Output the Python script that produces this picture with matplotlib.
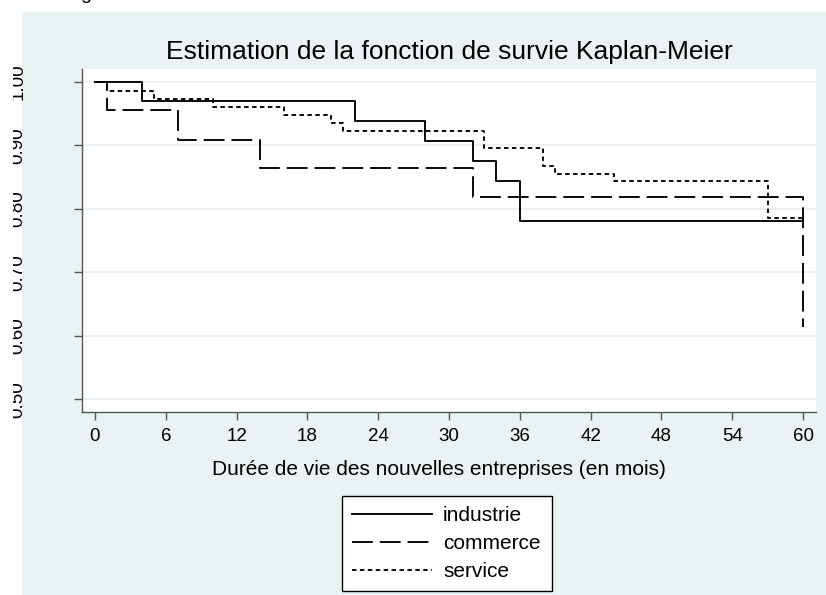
import matplotlib
matplotlib.use("Agg")
import matplotlib.pyplot as plt
from matplotlib.patches import Rectangle

plt.rcParams["font.family"] = ["Liberation Sans", "DejaVu Sans"]

# Kaplan-Meier estimates (months, survival)
industrie_t = [0, 4, 22, 28, 32, 34, 36, 60]
industrie_s = [1.0, 0.969, 0.938, 0.906, 0.875, 0.844, 0.781, 0.781]

commerce_t = [0, 1, 7, 14, 32, 60]
commerce_s = [1.0, 0.955, 0.909, 0.864, 0.818, 0.614]

service_t = [0, 1, 5, 10, 16, 20, 21, 33, 38, 39, 44, 57, 60]
service_s = [1.0, 0.986, 0.972, 0.960, 0.947, 0.935, 0.922, 0.895, 0.868, 0.855, 0.843, 0.785, 0.785]

labels = ["industrie", "commerce", "service"]
xticks = list(range(0, 61, 6))
yticks = [0.50, 0.60, 0.70, 0.80, 0.90, 1.00]

W, H = 826, 595
bg = "#EAF2F3"

fig = plt.figure(figsize=(W / 100, H / 100), dpi=100, facecolor="white")
fig.patches.append(Rectangle((22 / W, 0), 1, 1 - 12 / H, transform=fig.transFigure,
                             facecolor=bg, edgecolor="none", zorder=-5))

ax = fig.add_axes([82 / W, 1 - 412 / H, (816 - 82) / W, (412 - 69) / H])
ax.set_facecolor("white")

plt.rcParams["lines.scale_dashes"] = False
l1, = ax.step(industrie_t, industrie_s, where="post", color="black", lw=1.35)
l2, = ax.step(commerce_t, commerce_s, where="post", color="black", lw=1.35,
              dashes=(15, 5))
l3, = ax.step(service_t, service_s, where="post", color="black", lw=1.35,
              dashes=(3.2, 2.5))

ax.set_xlim(-1.1, 61.1)
ax.set_ylim(0.48, 1.02)
ax.set_xticks(xticks)
ax.set_xticklabels([str(t) for t in xticks], fontsize=13.5)
ax.set_yticks(yticks)
ax.set_yticklabels([f"{v:.2f}" for v in yticks], fontsize=13.5, rotation=90,
                   va="center")
ax.yaxis.grid(True, color=bg, lw=1.5)
ax.set_axisbelow(True)

for s in ["top", "right"]:
    ax.spines[s].set_visible(False)
for s in ["left", "bottom"]:
    ax.spines[s].set_color("#555555")
    ax.spines[s].set_linewidth(1.0)
ax.tick_params(axis="x", length=5.5, width=1, color="#555555", pad=6)
ax.tick_params(axis="y", length=6, width=1, color="#555555", pad=34)

fig.text(449 / W, 1 - 59 / H, "Estimation de la fonction de survie Kaplan-Meier",
         ha="center", va="baseline", fontsize=19)
fig.text(439 / W, 1 - 475 / H, "Durée de vie des nouvelles entreprises (en mois)",
         ha="center", va="baseline", fontsize=15)

leg = fig.legend([l1, l2, l3], labels, loc="upper left",
                 bbox_to_anchor=(342 / W, 1 - 496 / H, 210 / W, 0), mode="expand",
                 frameon=True, fancybox=False, edgecolor="black", framealpha=1,
                 fontsize=15, handlelength=3.8, handletextpad=0.55,
                 labelspacing=0.42, borderpad=0.5, borderaxespad=0)
leg.get_frame().set_linewidth(1.0)

# cropped bits of the original screenshot
fig.patches.append(Rectangle((0, 0), 13 / W, 1, transform=fig.transFigure,
                             facecolor="white", edgecolor="none", zorder=10))
fig.text(80 / W, 1 + 1 / H, "g", ha="left", va="baseline", fontsize=14)

fig.savefig("out.png", dpi=100, facecolor="white")
